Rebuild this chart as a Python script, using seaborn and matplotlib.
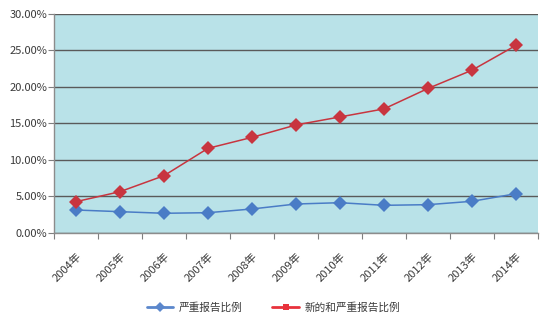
import matplotlib
matplotlib.use("Agg")
import matplotlib.pyplot as plt
from matplotlib.lines import Line2D
from matplotlib.ticker import PercentFormatter
import seaborn as sns
import pandas as pd

years = ["2004年", "2005年", "2006年", "2007年", "2008年", "2009年",
         "2010年", "2011年", "2012年", "2013年", "2014年"]
serious_ratio = [3.15, 2.92, 2.70, 2.78, 3.29, 3.97, 4.15, 3.79, 3.88, 4.34, 5.38]
new_and_serious_ratio = [4.29, 5.66, 7.85, 11.60, 13.10, 14.80, 15.90, 17.00, 19.80, 22.30, 25.70]
series_names = ["严重报告比例", "新的和严重报告比例"]

sns.set_theme(style="white")
plt.rcParams["font.family"] = ["Noto Sans CJK SC", "DejaVu Sans"]

df = pd.DataFrame({
    "pos": list(range(len(years))) * 2,
    "value": serious_ratio + new_and_serious_ratio,
    "series": [series_names[0]] * len(years) + [series_names[1]] * len(years),
})

blue = "#4A7CC6"
red = "#C8353F"

fig = plt.figure(figsize=(5.59, 3.24), dpi=100)
ax = fig.add_axes([0.0966, 0.2809, 0.8658, 0.6759])
ax.set_facecolor("#B9E2E8")

sns.lineplot(data=df, x="pos", y="value", hue="series", style="series",
             palette={series_names[0]: blue, series_names[1]: red},
             markers={series_names[0]: "D", series_names[1]: "D"},
             dashes=False, markersize=7.5, markeredgewidth=0, linewidth=1.1,
             legend=False, ax=ax)

ax.set_xlim(-0.5, len(years) - 0.5)
ax.set_ylim(0, 30)
ax.set_yticks(range(0, 31, 5))
ax.yaxis.set_major_formatter(PercentFormatter(decimals=2))
ax.set_xticks([i - 0.5 for i in range(len(years) + 1)], minor=False)
ax.set_xticklabels([])
ax.set_xticks(range(len(years)), minor=True)
ax.set_xticklabels(years, minor=True, rotation=45, ha="right",
                   rotation_mode="anchor", fontsize=8, color="#3A3A3A")
ax.tick_params(axis="x", which="major", direction="out", length=4,
               width=0.8, color="#7F7F7F", bottom=True)
ax.tick_params(axis="x", which="minor", length=0, pad=13)
ax.tick_params(axis="y", direction="out", length=4, width=0.8,
               color="#7F7F7F", left=True, labelsize=8,
               labelcolor="#3A3A3A", pad=1)
ax.set_xlabel("")
ax.set_ylabel("")

ax.yaxis.grid(True, color="#5A5A5A", linewidth=1.0)
ax.set_axisbelow(True)
for side in ["top", "right"]:
    ax.spines[side].set_visible(False)
for side in ["left", "bottom"]:
    ax.spines[side].set_color("#8C8C8C")
    ax.spines[side].set_linewidth(1.0)

handles = [
    Line2D([], [], color="#5B87CC", marker="D", markersize=5,
           linewidth=2, markeredgewidth=0),
    Line2D([], [], color="#E8323C", marker="s", markersize=4,
           linewidth=2, markeredgewidth=0),
]
fig.legend(handles, series_names, loc="center", bbox_to_anchor=(0.489, 0.052),
           ncol=2, frameon=False, fontsize=7.7, handlelength=2.5,
           handletextpad=0.5, columnspacing=2.8, labelcolor="#3A3A3A")

fig.savefig("out.png", dpi=100, facecolor="white")
